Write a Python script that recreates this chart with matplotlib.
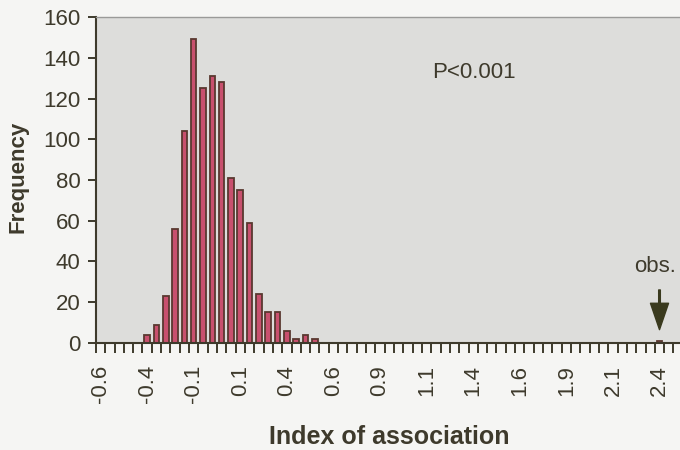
# Histogram of index of association (randomised data) with observed value
import numpy as np
import matplotlib.pyplot as plt

plt.rcParams['font.family'] = ['Liberation Sans', 'DejaVu Sans']

# frequency per bin of width 0.05, first bin -0.6 ... last bin 2.4
counts = [0, 0, 0, 0, 0, 4, 9, 23, 56, 104,
          149, 125, 131, 128, 81, 75, 59, 24, 15, 15,
          6, 2, 4, 2, 0, 0, 0, 0, 0, 0,
          0, 0, 0, 0, 0, 0, 0, 0, 0, 0,
          0, 0, 0, 0, 0, 0, 0, 0, 0, 0,
          0, 0, 0, 0, 0, 0, 0, 0, 0, 0]
obs_bin = 60
obs_count = 1
tick_labels = ["-0.6", "-0.4", "-0.1", "0.1", "0.4", "0.6", "0.9",
               "1.1", "1.4", "1.6", "1.9", "2.1", "2.4"]
y_ticks = [0, 20, 40, 60, 80, 100, 120, 140, 160]

dark = '#3e3a2c'

fig = plt.figure(figsize=(6.8, 4.5), dpi=100, facecolor='#f5f5f3')
ax = fig.add_axes([0.141, 0.238, 0.859, 0.724])
ax.set_facecolor('#dddddb')

x = np.arange(len(counts))
ax.bar(x, counts, width=0.6, color='#c8506e', edgecolor='#5a3830', linewidth=1.3)
ax.bar([obs_bin], [obs_count], width=0.6, color='#c8506e', edgecolor='#5a3830', linewidth=1.3)

ax.set_xlim(-0.5, 62.2)
ax.set_ylim(0, 160)
ax.set_yticks(y_ticks)
ax.set_xticks(np.arange(0, 61, 5))
ax.set_xticklabels(tick_labels, rotation=90, fontsize=16, color=dark)
ax.set_xticks(np.arange(-0.5, 62.5, 1), minor=True)
ax.tick_params(axis='x', which='major', length=0, pad=16)
ax.tick_params(axis='x', which='minor', length=7, width=1.4, color=dark)
ax.tick_params(axis='y', length=6, width=1.4, color=dark, labelsize=16,
               labelcolor=dark, pad=5)

for s in ['left', 'bottom']:
    ax.spines[s].set_color(dark)
    ax.spines[s].set_linewidth(1.5)
ax.spines['top'].set_color('#9a9a98')
ax.spines['top'].set_linewidth(1.0)
ax.spines['right'].set_visible(False)

fig.text(18/680, 1-177/450, 'Frequency', rotation=90, ha='center', va='center',
         fontsize=16, fontweight='bold', color=dark)
fig.text(389/680, 1-437/450, 'Index of association', ha='center', va='center',
         fontsize=18, fontweight='bold', color=dark)
fig.text(432/680, 1-72/450, 'P<0.001', ha='left', va='center', fontsize=16, color=dark)
fig.text(655/680, 1-267/450, 'obs.', ha='center', va='center', fontsize=16, color=dark)

ax.annotate('', xy=(obs_bin, 6.5), xytext=(obs_bin, 26),
            arrowprops=dict(facecolor='#3a3a1e', edgecolor='#3a3a1e',
                            width=1.2, headwidth=13, headlength=19))

fig.savefig('out.png', dpi=100, facecolor=fig.get_facecolor())
